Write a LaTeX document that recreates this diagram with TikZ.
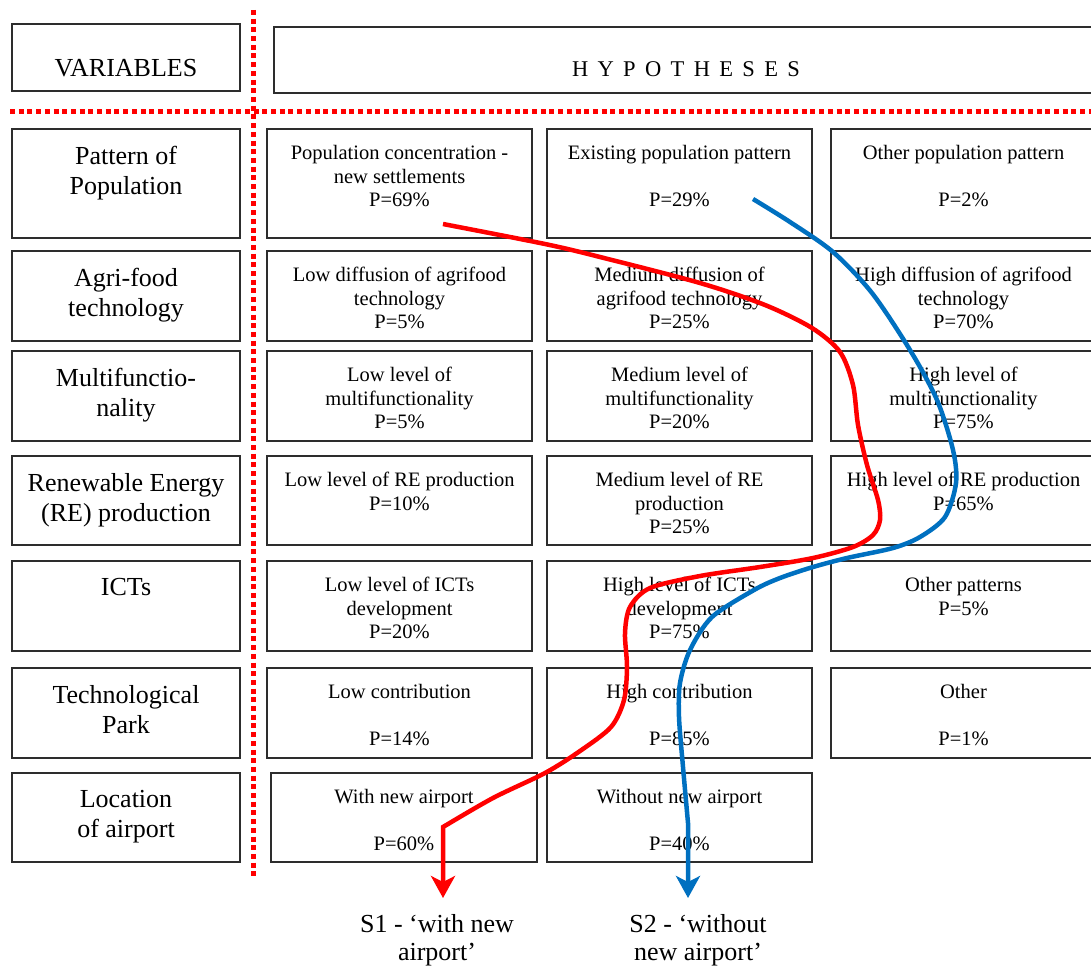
\documentclass[tikz,border=0pt]{standalone}
\usepackage{fontspec}
\setmainfont{Liberation Serif}
\usetikzlibrary{arrows.meta,positioning}
\definecolor{sred}{RGB}{255,0,0}
\definecolor{sblue}{RGB}{0,112,192}
\definecolor{frame}{RGB}{45,45,45}
\tikzset{
  cell/.style={draw=frame,line width=1.3pt,minimum width=#1,inner sep=0pt},
  cell/.default=265,
  vartext/.style={font=\fontsize{26}{30}\selectfont,align=center,inner sep=0pt},
  hyptext/.style={font=\fontsize{20.5}{23.5}\selectfont,align=center,inner sep=0pt},
  divider/.style={draw=sred,line width=5pt,dash pattern=on 5pt off 3.7pt},
  scenario/.style={draw=#1,line width=4.5pt,-{Stealth[length=22pt,width=24pt,inset=6pt]}},
  scenario/.default=sred,
}

\begin{document}
\begin{tikzpicture}[x=1pt,y=-1pt]
  \useasboundingbox (0,0) rectangle (1091,966);
  % headers
  \node[cell=228,minimum height=67] (var) at (126,57.5) {};
  \node[vartext] (vart) at (126,68) {VARIABLES};
  \node[cell=826,minimum height=66] (hyp) at (687,60) {};
  \node[font=\fontsize{22.5}{27}\selectfont,inner sep=0pt] (hypt) at (686,69)
    {\spaceskip=9.35pt H Y P O T H E S E S};
  \draw[divider] (253,10) -- (253,878);
  \draw[divider] (10,111) -- (1091,111);
  % variables
  \node[cell=228,minimum height=109] (v1) at (126,183.5) {};
  \node[cell=228,minimum height=90] (v2) at (126,296) {};
  \node[cell=228,minimum height=90] (v3) at (126,396) {};
  \node[cell=228,minimum height=89] (v4) at (126,500.5) {};
  \node[cell=228,minimum height=90] (v5) at (126,606) {};
  \node[cell=228,minimum height=90] (v6) at (126,713) {};
  \node[cell=228,minimum height=89] (v7) at (126,817.5) {};
  \node[vartext,below=18pt of v1.north] (v1t) {Pattern of\\Population};
  \node[vartext,below=18pt of v2.north] (v2t) {Agri-food\\technology};
  \node[vartext,below=18pt of v3.north] (v3t) {Multifunctio-\\nality};
  \node[vartext,below=18pt of v4.north] (v4t) {Renewable Energy\\(RE) production};
  \node[vartext,below=18pt of v5.north] (v5t) {ICTs};
  \node[vartext,below=18pt of v6.north] (v6t) {Technological\\Park};
  \node[vartext,below=18pt of v7.north] (v7t) {Location\\of airport};
  % hypotheses
  \node[cell,minimum height=109] (h11) at (399.5,183.5) {};
  \node[cell,minimum height=109] (h12) at (679.5,183.5) {};
  \node[cell,minimum height=109] (h13) at (963.5,183.5) {};
  \node[hyptext,below=17pt of h11.north] (h11t) {Population concentration -\\new settlements\\P=69\%};
  \node[hyptext,below=17pt of h12.north] (h12t) {Existing population pattern\\[23.5pt]P=29\%};
  \node[hyptext,below=17pt of h13.north] (h13t) {Other population pattern\\[23.5pt]P=2\%};
  \node[cell,minimum height=90] (h21) at (399.5,296) {};
  \node[cell,minimum height=90] (h22) at (679.5,296) {};
  \node[cell,minimum height=90] (h23) at (963.5,296) {};
  \node[hyptext,below=17pt of h21.north] (h21t) {Low diffusion of agrifood\\technology\\P=5\%};
  \node[hyptext,below=17pt of h22.north] (h22t) {Medium diffusion of\\agrifood technology\\P=25\%};
  \node[hyptext,below=17pt of h23.north] (h23t) {High diffusion of agrifood\\technology\\P=70\%};
  \node[cell,minimum height=90] (h31) at (399.5,396) {};
  \node[cell,minimum height=90] (h32) at (679.5,396) {};
  \node[cell,minimum height=90] (h33) at (963.5,396) {};
  \node[hyptext,below=17pt of h31.north] (h31t) {Low level of\\multifunctionality\\P=5\%};
  \node[hyptext,below=17pt of h32.north] (h32t) {Medium level of\\multifunctionality\\P=20\%};
  \node[hyptext,below=17pt of h33.north] (h33t) {High level of\\multifunctionality\\P=75\%};
  \node[cell,minimum height=89] (h41) at (399.5,500.5) {};
  \node[cell,minimum height=89] (h42) at (679.5,500.5) {};
  \node[cell,minimum height=89] (h43) at (963.5,500.5) {};
  \node[hyptext,below=17pt of h41.north] (h41t) {Low level of RE production\\P=10\%};
  \node[hyptext,below=17pt of h42.north] (h42t) {Medium level of RE\\production\\P=25\%};
  \node[hyptext,below=17pt of h43.north] (h43t) {High level of RE production\\P=65\%};
  \node[cell,minimum height=90] (h51) at (399.5,606) {};
  \node[cell,minimum height=90] (h52) at (679.5,606) {};
  \node[cell,minimum height=90] (h53) at (963.5,606) {};
  \node[hyptext,below=17pt of h51.north] (h51t) {Low level of ICTs\\development\\P=20\%};
  \node[hyptext,below=17pt of h52.north] (h52t) {High level of ICTs\\development\\P=75\%};
  \node[hyptext,below=17pt of h53.north] (h53t) {Other patterns\\P=5\%};
  \node[cell,minimum height=90] (h61) at (399.5,713) {};
  \node[cell,minimum height=90] (h62) at (679.5,713) {};
  \node[cell,minimum height=90] (h63) at (963.5,713) {};
  \node[hyptext,below=17pt of h61.north] (h61t) {Low contribution\\[23.5pt]P=14\%};
  \node[hyptext,below=17pt of h62.north] (h62t) {High contribution\\[23.5pt]P=85\%};
  \node[hyptext,below=17pt of h63.north] (h63t) {Other\\[23.5pt]P=1\%};
  \node[cell=266,minimum height=89] (h71) at (404,817.5) {};
  \node[cell,minimum height=89] (h72) at (679.5,817.5) {};
  \node[hyptext,below=17pt of h71.north] (h71t) {With new airport\\[23.5pt]P=60\%};
  \node[hyptext,below=17pt of h72.north] (h72t) {Without new airport\\[23.5pt]P=40\%};
  % scenario paths
  \coordinate (r0) at (443,224);
  \coordinate (r1) at (443,827);
  \coordinate (s1) at (443,898);
  \coordinate (b0) at (753,199);
  \coordinate (b1) at (688,823);
  \coordinate (s2) at (688,898);
  \draw[scenario=sred] plot[smooth] coordinates {(r0) (545,244) (600,257) (700,283)
    (765,305) (812,328) (840,352) (853,385) (858,425) (867,465) (878,500) (880,520)
    (873,535) (853,547) (813,558) (760,567) (700,576) (650,588) (630,607) (625,633)
    (627,667) (624,700) (611,727) (580,751) (545,773) (493,798) (r1)} -- (s1);
  \draw[scenario=sblue] plot[smooth] coordinates {(b0) (790,222) (833,252) (872,293)
    (910,350) (937,400) (953,450) (956,483) (945,517) (920,537) (893,548) (847,558)
    (813,567) (780,578) (754,590) (712,617) (690,650) (680,683) (679,717) (683,767)
    (b1)} -- (s2);
  \node[vartext,font=\fontsize{26}{28}\selectfont] (s1t) at (437,940) {S1 - ‘with new\\airport’};
  \node[vartext,font=\fontsize{26}{28}\selectfont] (s2t) at (698,940) {S2 - ‘without\\new airport’};
\end{tikzpicture}
\end{document}
